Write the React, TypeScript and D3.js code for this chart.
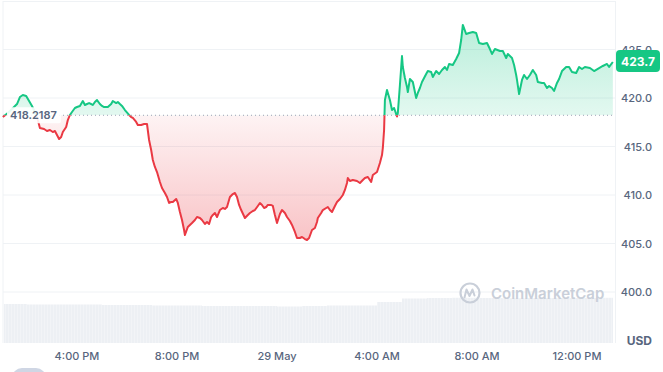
import React from "react";
import * as d3 from "d3";

// minutes since 28 May 13:00
const minutes = [
  2, 14, 24, 36, 43, 50, 58, 65, 72, 79, 86, 91, 101, 108, 115, 122, 127, 132, 137, 142,
  146, 154, 158, 163, 168, 175, 180, 187, 194, 199, 204, 209, 214, 218, 223, 228, 235, 240, 245, 250,
  254, 262, 266, 274, 278, 283, 288, 295, 305, 310, 314, 322, 326, 334, 341, 348, 353, 358, 362, 367,
  372, 379, 384, 391, 396, 401, 406, 410, 418, 422, 427, 432, 437, 439, 446, 456, 463, 468, 475, 480,
  487, 492, 497, 502, 506, 511, 516, 523, 530, 535, 540, 547, 554, 559, 564, 569, 574, 583, 590, 595,
  602, 607, 614, 619, 624, 629, 634, 638, 646, 650, 655, 660, 667, 672, 679, 684, 691, 696, 703, 708,
  715, 720, 727, 732, 737, 744, 751, 756, 758, 766, 770, 778, 782, 787, 792, 799, 804, 811, 818, 823,
  828, 830, 835, 842, 852, 859, 866, 871, 878, 886, 890, 900, 907, 912, 914, 917, 919, 924, 931, 936,
  941, 948, 950, 955, 960, 962, 967, 972, 974, 979, 986, 994, 998, 1003, 1008, 1013, 1018, 1022, 1030, 1034,
  1042, 1049, 1056, 1063, 1068, 1073, 1082, 1090, 1097, 1102, 1106, 1114, 1121, 1130, 1138, 1145, 1154, 1164, 1171, 1176,
  1183, 1195, 1202, 1210, 1214, 1224, 1229, 1234, 1236, 1241, 1248, 1253, 1260, 1267, 1274, 1282, 1286, 1296, 1301, 1308,
  1313, 1320, 1325, 1332, 1337, 1344, 1354, 1361, 1368, 1378, 1385, 1392, 1399, 1411, 1421, 1433, 1442, 1452, 1457, 1466,
];

const prices = [
  418.04, 418.45, 418.87, 419.38, 420.1, 420.31, 420.21, 419.69, 419.18, 418.56, 417.73, 416.91, 416.8, 416.6, 416.7, 416.49, 416.6, 416.19, 415.77, 415.98,
  416.49, 417.01, 417.73, 418.25, 418.56, 418.97, 419.07, 419.18, 419.69, 419.28, 419.38, 419.48, 419.38, 419.28, 419.59, 419.79, 419.38, 419.18, 419.07, 419.07,
  419.07, 419.38, 419.69, 419.48, 419.59, 419.38, 419.18, 418.76, 418.25, 418.04, 417.94, 417.53, 417.22, 417.22, 417.32, 417.32, 415.67, 414.64, 413.61, 412.89,
  412.37, 411.34, 410.72, 410.21, 409.79, 409.18, 409.28, 409.28, 409.59, 409.18, 408.25, 407.42, 406.39, 405.88, 406.7, 407.11, 407.42, 407.73, 407.63, 407.42,
  407.01, 407.22, 407.01, 407.73, 407.94, 408.14, 407.73, 408.45, 408.66, 408.56, 408.76, 409.79, 410.1, 410.21, 409.79, 408.97, 408.45, 407.63, 407.94, 408.14,
  408.35, 408.45, 408.87, 409.18, 408.97, 408.66, 408.76, 408.97, 408.97, 408.87, 407.94, 407.11, 408.04, 408.45, 408.14, 407.73, 407.32, 406.91, 406.19, 405.57,
  405.57, 405.67, 405.46, 405.36, 405.57, 406.39, 406.6, 407.22, 407.63, 408.14, 408.45, 408.66, 408.76, 408.45, 408.25, 408.87, 409.28, 409.59, 410.0, 410.52,
  411.24, 411.75, 411.44, 411.55, 411.44, 411.24, 411.55, 411.75, 411.86, 411.34, 412.06, 412.37, 413.3, 414.12, 414.85, 416.7, 419.79, 420.82, 419.79, 418.76,
  418.97, 418.1, 418.45, 421.34, 424.33, 423.2, 422.06, 421.13, 420.62, 421.96, 421.65, 420.0, 420.52, 421.03, 421.65, 422.06, 422.47, 422.78, 422.68, 422.16,
  422.78, 422.47, 422.89, 423.2, 422.89, 423.51, 423.4, 424.02, 424.64, 425.98, 427.53, 426.6, 426.7, 426.8, 426.7, 425.67, 425.57, 425.67, 425.05, 424.54,
  425.05, 424.85, 424.85, 424.12, 424.54, 424.12, 423.4, 422.37, 421.86, 420.41, 421.86, 422.37, 421.96, 422.37, 422.89, 422.37, 421.65, 421.55, 421.55, 421.03,
  421.24, 421.03, 420.72, 421.55, 421.96, 422.78, 423.2, 423.2, 422.68, 422.58, 423.2, 422.99, 423.2, 423.09, 422.78, 423.09, 423.3, 423.51, 423.2, 423.71,
];

// hourly volume buckets (minutes since 28 May 13:00), arbitrary units
const volumeMinutes = [
  0, 60, 120, 180, 240, 300, 360, 420, 480, 540, 600, 660, 720, 780, 840, 900, 960, 1020, 1080, 1140, 1200, 1260, 1320, 1380, 1440,
];
const volumes = [
  3.9, 3.85, 3.85, 3.85, 3.8, 3.8, 3.75, 3.75, 3.7, 3.7, 3.7, 3.65, 3.7, 3.75, 3.75, 4.1, 4.45, 4.5, 4.52, 4.5, 4.48, 4.5, 4.5, 4.5, 4.52,
];

const priceTicks = [400, 405, 410, 415, 420, 425];
const baselinePrice = 418.2187;
const baselineLabel = "418.2187";
const lastPriceLabel = "423.7";
const currencyLabel = "USD";
const watermark = "CoinMarketCap";

const W = 663;
const H = 372;
const GREEN = "#16c784";
const RED = "#ea3943";
const GRID = "#eff2f5";
const TEXT = "#58667e";
const FONT = "Inter, 'Noto Sans', sans-serif";

const base = new Date(2023, 4, 28, 13, 0);
const toDate = (m: number) => new Date(base.getTime() + m * 60000);

type P = { t: Date; p: number };

export default function App() {
  const x = d3.scaleTime().domain([toDate(0), toDate(1466.4)]).range([2, 613]);
  const y = d3.scaleLinear().domain([400, 425]).range([292, 49.5]);
  const yv = d3.scaleLinear().domain([0, 5]).range([343, 293]);

  const data: P[] = minutes.map((m, i) => ({ t: toDate(m), p: prices[i] }));
  const line = d3
    .line<P>()
    .x((d) => x(d.t))
    .y((d) => y(d.p));
  const yb = y(baselinePrice);
  const area = d3
    .area<P>()
    .x((d) => x(d.t))
    .y0(yb)
    .y1((d) => y(d.p));

  const pMax = d3.max(prices) as number;
  const pMin = d3.min(prices) as number;
  const last = data[data.length - 1];

  const xTicks = x.ticks(d3.timeHour.every(4) as any);
  const fmt = (d: Date) =>
    d.getHours() === 0 ? d3.timeFormat("%-d %b")(d) : d3.timeFormat("%-I:%M %p")(d);

  const left = 3;
  const right = 615;
  const bottom = 343;

  const linePath = line(data) || "";
  const areaPath = area(data) || "";

  return (
    <svg
      width={W}
      height={H}
      style={{ position: "absolute", left: 0, top: 0, background: "#fff" }}
      fontFamily={FONT}
    >
      <defs>
        <clipPath id="above">
          <rect x={0} y={0} width={W} height={yb} />
        </clipPath>
        <clipPath id="below">
          <rect x={0} y={yb} width={W} height={H - yb} />
        </clipPath>
        <linearGradient id="gGreen" gradientUnits="userSpaceOnUse" x1={0} x2={0} y1={y(pMax)} y2={yb}>
          <stop offset="0%" stopColor={GREEN} stopOpacity={0.3} />
          <stop offset="100%" stopColor={GREEN} stopOpacity={0.12} />
        </linearGradient>
        <linearGradient id="gRed" gradientUnits="userSpaceOnUse" x1={0} x2={0} y1={yb} y2={y(pMin)}>
          <stop offset="0%" stopColor={RED} stopOpacity={0.06} />
          <stop offset="100%" stopColor={RED} stopOpacity={0.3} />
        </linearGradient>
        <pattern id="vstripe" width={3} height={10} patternUnits="userSpaceOnUse">
          <rect width={3} height={10} fill="#edf0f4" />
          <rect x={2.3} width={0.7} height={10} fill="#f5f6f9" />
        </pattern>
      </defs>

      {/* frame */}
      <line x1={left} x2={right} y1={1.5} y2={1.5} stroke={GRID} />
      <line x1={left} x2={left} y1={1} y2={bottom} stroke={GRID} />
      <line x1={right + 0.5} x2={right + 0.5} y1={1} y2={bottom} stroke={GRID} />

      {/* grid */}
      {priceTicks.map((t) => (
        <line key={t} x1={left} x2={right} y1={y(t)} y2={y(t)} stroke={GRID} strokeWidth={1} />
      ))}

      {/* volume */}
      {volumes.map((v, i) => {
        const x0 = Math.max(left + 1, x(toDate(volumeMinutes[i])));
        const x1 = Math.min(613, x(toDate(volumeMinutes[i] + 60)));
        return (
          <rect key={i} x={x0} y={yv(v)} width={Math.max(0, x1 - x0)} height={bottom - yv(v)} fill="url(#vstripe)" />
        );
      })}

      {/* watermark */}
      <g opacity={1}>
        <circle cx={470} cy={293} r={9.5} fill="none" stroke="#c9cfd9" strokeWidth={2.2} />
        <path
          d="M464.5,297.5 L466.5,289.5 L469.5,296 L472.5,289.5 L474.5,295.5"
          fill="none"
          stroke="#c9cfd9"
          strokeWidth={2}
          strokeLinejoin="round"
          strokeLinecap="round"
        />
        <text x={491} y={298.5} fontSize={15} fontWeight={600} fill="#c9cfd9">
          {watermark}
        </text>
      </g>

      {/* areas */}
      <path d={areaPath} fill="url(#gGreen)" clipPath="url(#above)" />
      <path d={areaPath} fill="url(#gRed)" clipPath="url(#below)" />

      {/* baseline */}
      <line x1={left} x2={613} y1={yb} y2={yb} stroke="#9aa3b5" strokeWidth={1} strokeDasharray="1 3" />

      {/* price line */}
      <path d={linePath} fill="none" stroke={GREEN} strokeWidth={2} strokeLinejoin="round" clipPath="url(#above)" />
      <path d={linePath} fill="none" stroke={RED} strokeWidth={2} strokeLinejoin="round" clipPath="url(#below)" />

      {/* baseline label */}
      <rect x={7} y={yb - 8} width={54} height={16} rx={2} fill="#ffffff" fillOpacity={0.9} />
      <text x={10} y={yb + 4} fontSize={11} fontWeight={600} fill={TEXT}>
        {baselineLabel}
      </text>

      {/* y axis labels */}
      {priceTicks.map((t) => (
        <text key={t} x={652} y={y(t) + 4} textAnchor="end" fontSize={11} fontWeight={500} fill={TEXT}>
          {d3.format(".1f")(t)}
        </text>
      ))}
      <text x={652} y={345} textAnchor="end" fontSize={12} fontWeight={700} fill={TEXT}>
        {currencyLabel}
      </text>

      {/* last price tag */}
      <rect x={616} y={y(last.p) - 12} width={44} height={22} rx={4} fill={GREEN} />
      <text x={638} y={y(last.p) + 3.5} textAnchor="middle" fontSize={12} fontWeight={700} fill="#fff">
        {lastPriceLabel}
      </text>

      {/* x axis labels */}
      {xTicks.map((t, i) => (
        <text key={i} x={x(t)} y={360} textAnchor="middle" fontSize={11} fontWeight={500} fill={TEXT}>
          {fmt(t)}
        </text>
      ))}

      {/* partial button at bottom-left */}
      <rect x={12} y={368} width={34} height={20} rx={10} fill="#cfd6e4" />
    </svg>
  );
}
